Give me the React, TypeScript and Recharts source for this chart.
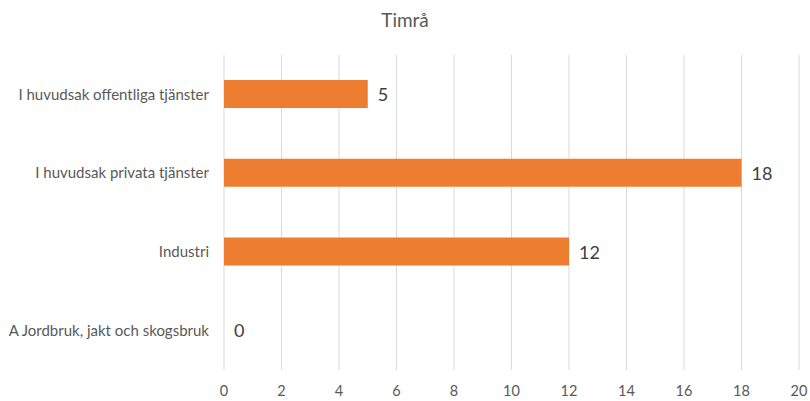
import { BarChart, Bar, XAxis, YAxis, CartesianGrid, LabelList } from 'recharts';

const categories = [
  'I huvudsak offentliga tjänster',
  'I huvudsak privata tjänster',
  'Industri',
  'A Jordbruk, jakt och skogsbruk',
];
const values = [5, 18, 12, 0];
const xTicks = [0, 2, 4, 6, 8, 10, 12, 14, 16, 18, 20];

const chartData = categories.map((name, i) => ({ name, value: values[i] }));

const font = 'Lato, "Open Sans", sans-serif';

// custom label so the zero bar still gets its "0"
const ValueLabel = (props: any) => {
  const { x, y, width, height, value } = props;
  if (value === undefined || value === null) return null;
  return (
    <text
      x={Number(x) + Number(width || 0) + 10}
      y={Number(y) + Number(height) / 2}
      dominantBaseline="central"
      fontSize={18}
      fill="#404040"
      fontFamily={font}
    >
      {value}
    </text>
  );
};

export default function App() {
  return (
    <div style={{ position: 'absolute', left: 0, top: 0, width: 810, height: 401, background: '#fff', fontFamily: font }}>
      <div
        style={{
          position: 'absolute',
          top: 8,
          left: 0,
          width: 810,
          textAlign: 'center',
          fontSize: 19,
          color: '#595959',
        }}
      >
        Timrå
      </div>
      <BarChart
        width={810}
        height={401}
        data={chartData}
        layout="vertical"
        margin={{ top: 55, right: 11, left: 0, bottom: 0 }}
      >
        <CartesianGrid horizontal={false} stroke="#d9d9d9" />
        <XAxis
          type="number"
          domain={[0, 20]}
          ticks={xTicks}
          height={31}
          axisLine={false}
          tickLine={false}
          tickSize={0}
          tickMargin={16}
          tick={{ fontSize: 14.5, fill: '#595959', fontFamily: font }}
          interval={0}
        />
        <YAxis
          type="category"
          dataKey="name"
          width={224}
          axisLine={false}
          tickLine={false}
          tickSize={0}
          tickMargin={15}
          tick={{ fontSize: 15, fill: '#595959', fontFamily: font }}
          interval={0}
        />
        <Bar dataKey="value" fill="#ED7D31" barSize={28} minPointSize={0.01} isAnimationActive={false}>
          <LabelList dataKey="value" content={ValueLabel} />
        </Bar>
      </BarChart>
    </div>
  );
}
